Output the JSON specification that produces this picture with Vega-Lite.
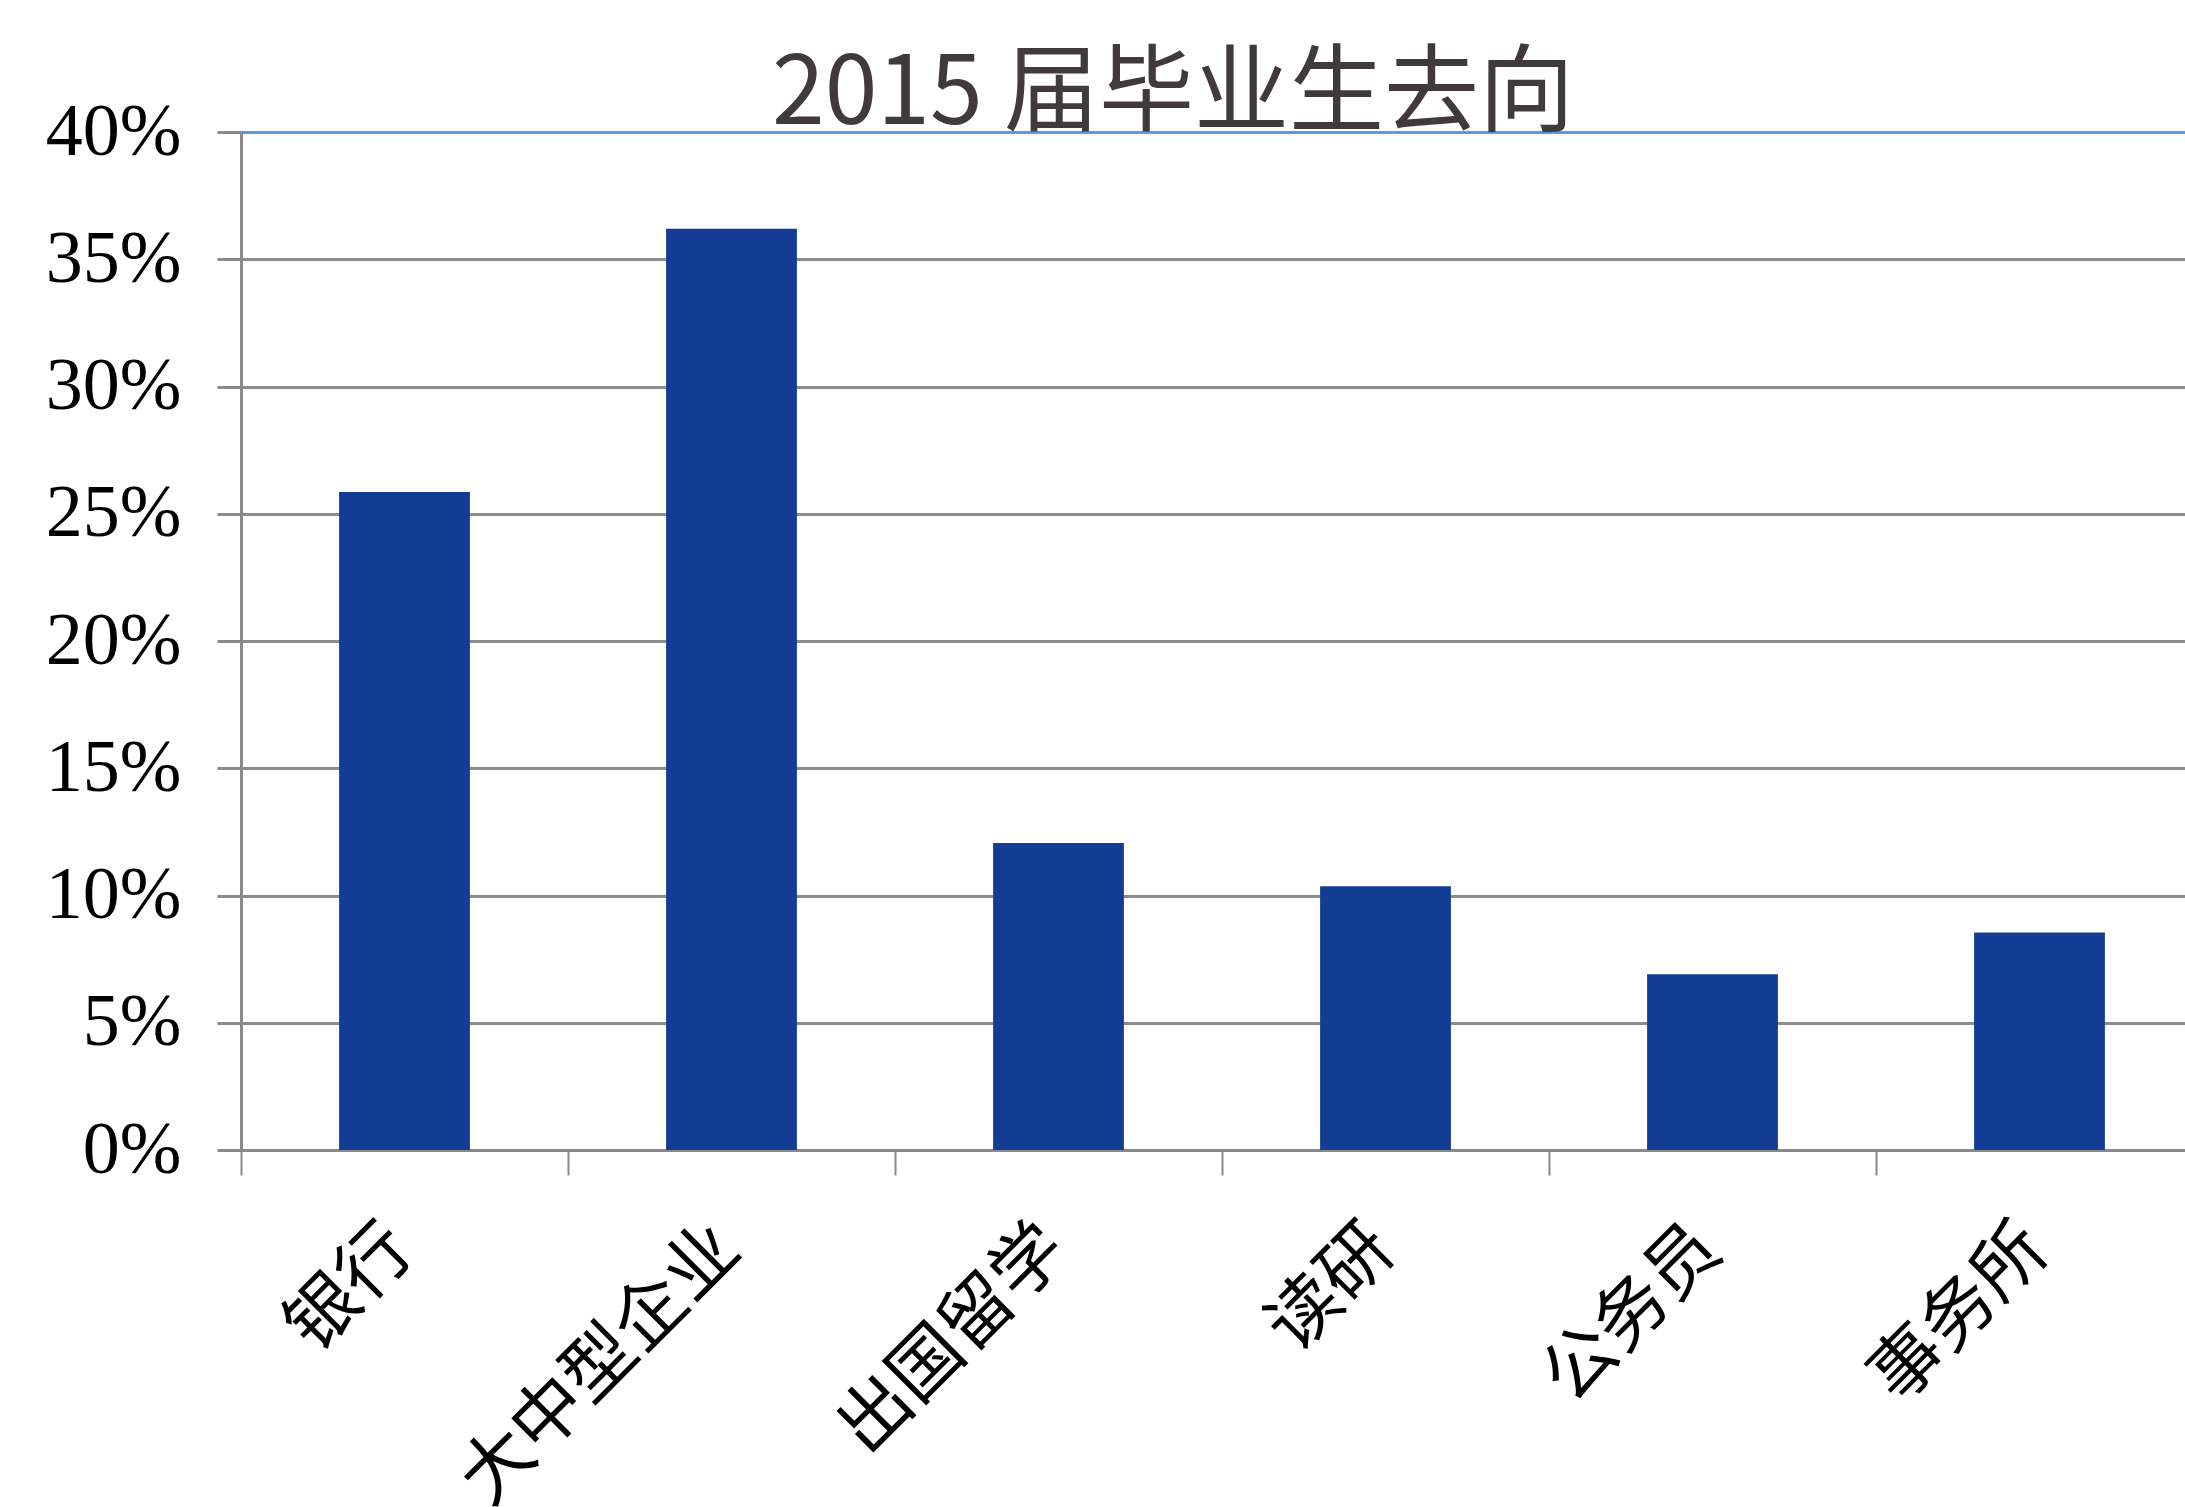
{
  "$schema": "https://vega.github.io/schema/vega-lite/v6.json",
  "width": 1944,
  "height": 1018,
  "autosize": {"type": "none"},
  "padding": {"left": 241, "top": 132, "right": 0, "bottom": 357},
  "background": "white",
  "title": {
    "text": "2015 届毕业生去向",
    "font": "Noto Sans CJK SC",
    "fontSize": 95,
    "fontWeight": "normal",
    "color": "#403b3a",
    "anchor": "middle",
    "frame": "group",
    "dx": -40,
    "dy": 128,
    "baseline": "alphabetic",
    "offset": 4
  },
  "data": {
    "values": [
      {"去向": "银行", "比例": 0.2585},
      {"去向": "大中型企业", "比例": 0.362},
      {"去向": "出国留学", "比例": 0.1206},
      {"去向": "读研", "比例": 0.1036},
      {"去向": "公务员", "比例": 0.0691},
      {"去向": "事务所", "比例": 0.0855}
    ]
  },
  "mark": {"type": "bar", "color": "#133c94", "width": {"band": 0.4}},
  "encoding": {
    "x": {
      "field": "去向",
      "type": "nominal",
      "sort": null,
      "scale": {"paddingInner": 0, "paddingOuter": 0, "range": [0, 1962]},
      "axis": {
        "title": null,
        "tickBand": "extent",
        "grid": false,
        "domainColor": "#898989",
        "domainWidth": 3,
        "tickColor": "#898989",
        "tickWidth": 2,
        "tickSize": 25,
        "labelAngle": -45,
        "labelAlign": "right",
        "labelBaseline": "middle",
        "labelFont": "Noto Sans CJK SC",
        "labelFontSize": 72,
        "labelColor": "#000000",
        "labelPadding": 62,
        "labelOffset": -4,
        "labelLimit": 0
      }
    },
    "y": {
      "field": "比例",
      "type": "quantitative",
      "scale": {"domain": [0, 0.4], "nice": false},
      "axis": {
        "title": null,
        "values": [0, 0.05, 0.1, 0.15, 0.2, 0.25, 0.3, 0.35, 0.4],
        "format": ".0%",
        "grid": true,
        "gridColor": {"condition": {"test": "datum.value >= 0.399", "value": "#5b9bd5"}, "value": "#8c8c8c"},
        "gridWidth": 3,
        "domainColor": "#898989",
        "domainWidth": 3,
        "tickColor": "#898989",
        "tickWidth": 3,
        "tickSize": 24,
        "labelFont": "Liberation Serif",
        "labelFontSize": 74,
        "labelColor": "#000000",
        "labelPadding": 36
      }
    }
  },
  "config": {"view": {"stroke": null}}
}
